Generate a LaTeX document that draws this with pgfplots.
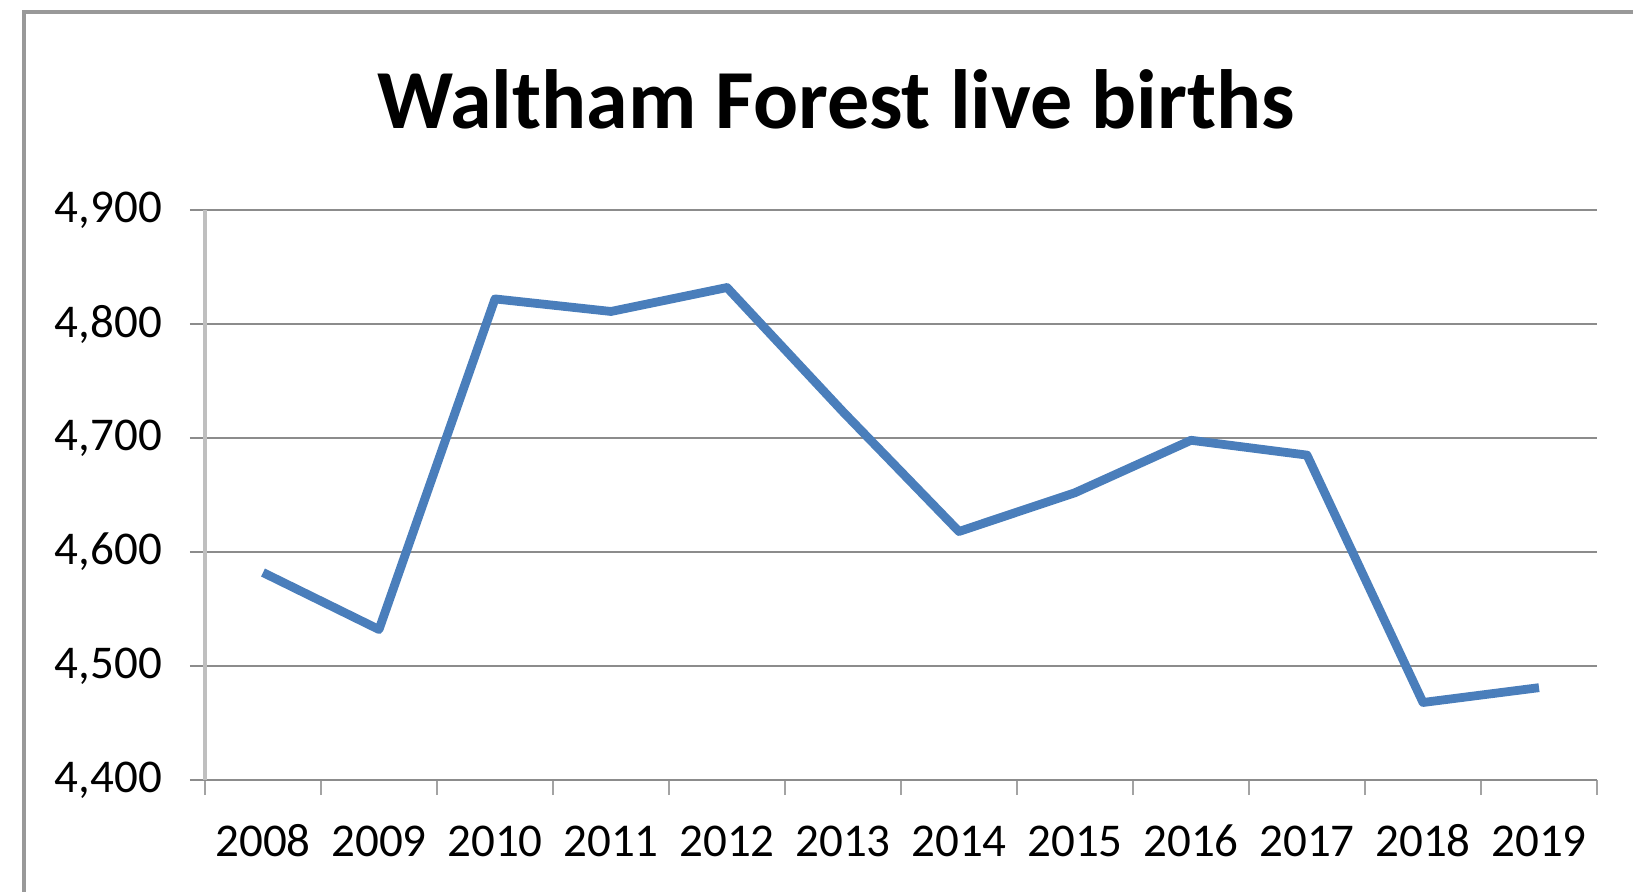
\documentclass[border=0pt]{standalone}
\usepackage{pgfplots}
\pgfplotsset{compat=1.18}
\usepackage{fontspec}
\setmainfont{Carlito}
\definecolor{lineblue}{HTML}{4A7EBB}
\definecolor{gridgray}{HTML}{8C8C8C}
\definecolor{yaxgray}{HTML}{BFBFBF}
\definecolor{framegray}{HTML}{999999}
\begin{document}
\begin{tikzpicture}
\begin{axis}[
  at={(102.5pt,55.5pt)}, anchor=south west,
  scale only axis, width=696pt, height=285pt,
  xmin=-0.5, xmax=11.5, ymin=4400, ymax=4900,
  ytick={4400,4500,4600,4700,4800,4900},
  xtick={-0.5,0.5,...,11.5},
  x tick label as interval,
  xticklabels={2008,2009,2010,2011,2012,2013,2014,2015,2016,2017,2018,2019},
  axis x line*=bottom, axis y line*=left,
  x axis line style={draw=gridgray, line width=1.3pt, -},
  y axis line style={draw=yaxgray, line width=2pt, -},
  tick align=outside, major tick length=7.5pt,
  xtick style={draw=gridgray!80, line width=1.3pt},
  ytick style={draw=gridgray, line width=1.3pt},
  ymajorgrids, grid style={draw=gridgray, line width=1.3pt},
  /pgf/number format/.cd, 1000 sep={,}, assume math mode=true, /pgfplots/.cd,
  ticklabel style={font=\fontsize{23.5}{28}\selectfont, text=black},
  xticklabel style={anchor=north, text height=15pt, text depth=0pt, yshift=-12pt},
  yticklabel style={xshift=-10.5pt},
  clip=false,
]
\addplot[lineblue, line width=4.4pt, line join=round] coordinates {
(0,4582) (1,4532) (2,4822) (3,4811) (4,4832) (5,4723)
(6,4618) (7,4652) (8,4698) (9,4685) (10,4468) (11,4481)
};
\end{axis}
\node[anchor=base, font=\fontsize{42}{50}\selectfont\bfseries] at (418pt,381pt) {Waltham Forest live births};
\draw[framegray, line width=1.6pt] (12pt,-20pt) -- (12pt,439.5pt) -- (840pt,439.5pt);
\pgfresetboundingbox
\path[use as bounding box] (0,0) rectangle (816.5pt,445.5pt);
\end{tikzpicture}
\end{document}
